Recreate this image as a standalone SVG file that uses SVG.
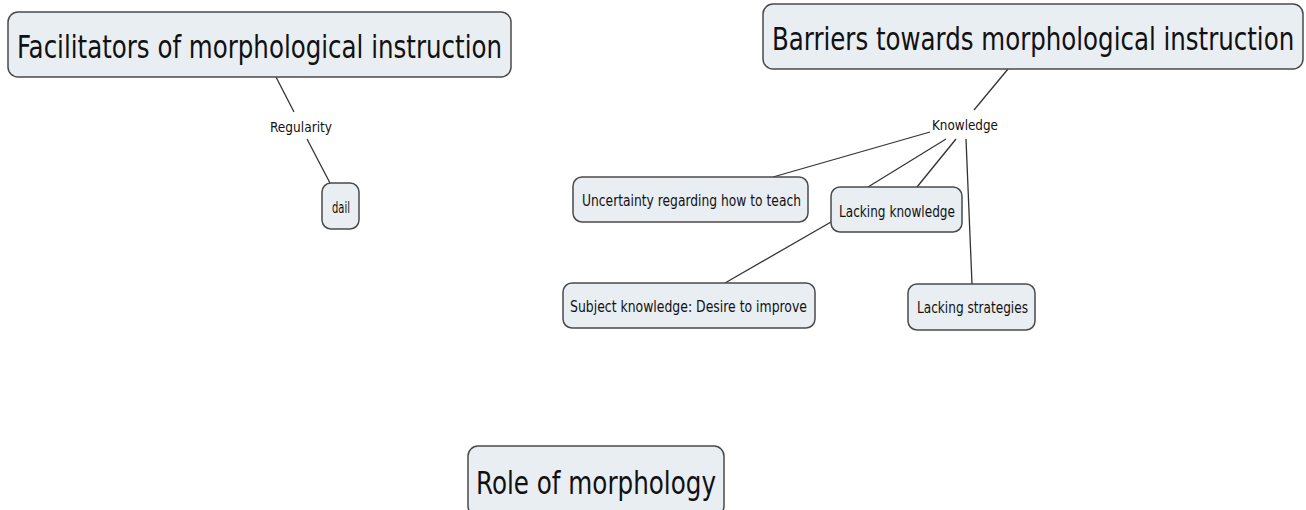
<svg xmlns="http://www.w3.org/2000/svg" width="1306" height="510" viewBox="0 0 1306 510">
  <style>
    .node rect { fill: #e9eef3; stroke: #4a4a4a; stroke-width: 1.5; }
    .big { font-family: "DejaVu Sans Condensed", "DejaVu Sans", sans-serif; font-size: 32px; fill: #111; }
    .small { font-family: "DejaVu Sans Condensed", "DejaVu Sans", sans-serif; font-size: 15px; fill: #111; }
    .lbl { font-family: "DejaVu Sans Condensed", "DejaVu Sans", sans-serif; font-size: 14px; fill: #111; }
    .conn line { stroke: #333; stroke-width: 1.3; }
  </style>
  <rect width="1306" height="510" fill="#ffffff"/>

  <g id="connectors" class="conn">
    <line x1="276" y1="77" x2="294" y2="112"/>
    <line x1="307" y1="139" x2="330" y2="183"/>
    <line x1="1008" y1="69" x2="974" y2="110"/>
    <line x1="930" y1="132" x2="773" y2="177"/>
    <line x1="946" y1="139" x2="868" y2="187"/>
    <line x1="956" y1="139" x2="917" y2="187"/>
    <line x1="966" y1="139" x2="972" y2="284"/>
    <line x1="831" y1="222" x2="725" y2="283"/>
  </g>

  <g id="facilitators" class="node">
    <rect x="8" y="12" width="503" height="65" rx="10"/>
    <text class="big" x="17" y="58" textLength="485" lengthAdjust="spacingAndGlyphs">Facilitators of morphological instruction</text>
  </g>

  <g id="barriers" class="node">
    <rect x="763" y="4" width="540" height="65" rx="10"/>
    <!-- horizontally condensed so the long title stays inside its box -->
    <text class="big" transform="translate(772,50) scale(0.7,1)" x="0" y="0" textLength="746" lengthAdjust="spacingAndGlyphs">Barriers towards morphological instruction</text>
  </g>

  <g id="role" class="node">
    <rect x="468" y="446" width="256" height="70" rx="10"/>
    <text class="big" x="476" y="494" textLength="240" lengthAdjust="spacingAndGlyphs">Role of morphology</text>
  </g>

  <g id="regularity">
    <text class="lbl" x="270" y="132" textLength="62" lengthAdjust="spacingAndGlyphs">Regularity</text>
  </g>

  <g id="dail" class="node">
    <rect x="322" y="183" width="37" height="46" rx="9"/>
    <text class="small" x="332" y="213" textLength="18" lengthAdjust="spacingAndGlyphs">dail</text>
  </g>

  <g id="knowledge">
    <text class="lbl" x="932" y="130" textLength="66" lengthAdjust="spacingAndGlyphs">Knowledge</text>
  </g>

  <g id="uncertainty" class="node">
    <rect x="573" y="177" width="235" height="45" rx="9"/>
    <text class="small" x="582" y="206" textLength="219" lengthAdjust="spacingAndGlyphs">Uncertainty regarding how to teach</text>
  </g>

  <g id="lacking-knowledge" class="node">
    <rect x="831" y="187" width="131" height="45" rx="9"/>
    <text class="small" x="839" y="217" textLength="116" lengthAdjust="spacingAndGlyphs">Lacking knowledge</text>
  </g>

  <g id="subject-knowledge" class="node">
    <rect x="563" y="283" width="252" height="45" rx="9"/>
    <text class="small" x="570" y="312" textLength="237" lengthAdjust="spacingAndGlyphs">Subject knowledge: Desire to improve</text>
  </g>

  <g id="lacking-strategies" class="node">
    <rect x="908" y="284" width="127" height="46" rx="9"/>
    <text class="small" x="917" y="313" textLength="111" lengthAdjust="spacingAndGlyphs">Lacking strategies</text>
  </g>
</svg>
